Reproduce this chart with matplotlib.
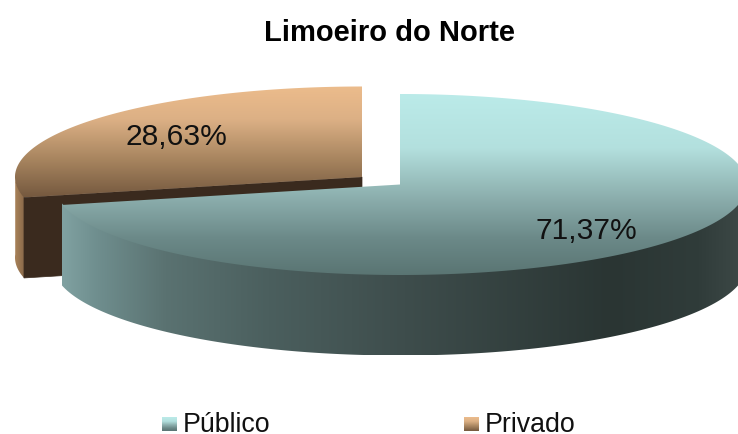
import numpy as np
import matplotlib
matplotlib.use("Agg")
import matplotlib.pyplot as plt
from matplotlib.colors import LinearSegmentedColormap
from matplotlib.patches import Polygon

title = "Limoeiro do Norte"
labels = ["Público", "Privado"]
shares = [71.37, 28.63]
share_texts = ["71,37%", "28,63%"]

plt.rcParams['font.family'] = ['Liberation Sans', 'DejaVu Sans']

# aparencia do pie 3D, em pixels
cx, cy = 400, 184.5
a, b = 347, 90.5
depth = 80.5
shift = (-38, -7.5)  # deslocamento da fatia explodida


def cmap(stops):
    return LinearSegmentedColormap.from_list("g", stops)


top_pub = cmap([(0, "#bbebe9"), (0.3, "#b3e0de"), (0.55, "#8fb2b1"), (0.8, "#6b8988"), (1, "#5a7573")])
top_pri = cmap([(0, "#ecbc8c"), (0.3, "#dcb085"), (0.65, "#a98660"), (1, "#75593f")])
rim_pub = cmap([(0, "#80a1a1"), (0.05, "#6f8e8e"), (0.15, "#5a7271"), (0.3, "#4b5f5e"), (0.5, "#3e4d4c"),
                (0.8, "#2a3533"), (0.93, "#303c3a"), (1, "#3e4a48")])
rim_pri = cmap([(0, "#a98259"), (1, "#8a6a4a")])

fig = plt.figure(figsize=(7.38, 4.34), dpi=100)
ax = fig.add_axes([0, 0, 1, 1])
ax.axis("off")


def arc(t0, t1, ox, oy, dz=0):
    t = np.radians(np.linspace(t0, t1, 300))
    return np.column_stack([ox + a * np.sin(t), oy - b * np.cos(t) + dz])


def fill(points, colors, vertical=True, zorder=1):
    xs, ys = points[:, 0], points[:, 1]
    grad = np.linspace(0, 1, 256)
    grad = grad[:, None] if vertical else grad[None, :]
    im = ax.imshow(grad, cmap=colors, aspect="auto", zorder=zorder, interpolation="bilinear",
                   extent=[xs.min(), xs.max(), ys.max(), ys.min()], vmin=0, vmax=1)
    clip = Polygon(points, closed=True, transform=ax.transData)
    im.set_clip_path(clip)


def rim(t0, t1, ox, oy, colors, zorder):
    # a borda sobe um pouco por baixo do topo para nao sobrar fresta
    upper = arc(t0, t1, ox, oy, -1.5)
    lower = arc(t0, t1, ox, oy, depth)
    fill(np.vstack([upper, lower[::-1]]), colors, vertical=False, zorder=zorder)


# angulos a partir do topo, sentido horario
cut = 360 * shares[0] / sum(shares)

# Privado fica atras
ox, oy = cx + shift[0], cy + shift[1]
rim(cut, 272, ox, oy, rim_pri, 1)
edge = arc(cut, cut, ox, oy)[0]
ax.add_patch(Polygon([(ox, oy), edge, edge + (0, depth), (ox, oy + depth)], closed=True,
                     facecolor="#3a2a1e", edgecolor="#3a2a1e", lw=0.5, zorder=2))
pts = np.vstack([[(ox, oy)], arc(cut, 360, ox, oy)])
fill(pts, top_pri, zorder=3)

# Publico na frente
rim(90, cut, cx, cy, rim_pub, 4)
pts = np.vstack([[(cx, cy)], arc(0, cut, cx, cy)])
fill(pts, top_pub, zorder=5)

ax.text(389, 33, title, fontsize=21, fontweight="bold", ha="center", va="center", color="#000000", zorder=6)
ax.text(586.5, 231, share_texts[0], fontsize=21.6, ha="center", va="center", color="#111111", zorder=6)
ax.text(176, 137, share_texts[1], fontsize=21.6, ha="center", va="center", color="#111111", zorder=6)

# legenda
swatches = [top_pub, top_pri]
for name, col, sx, tx in zip(labels, swatches, [162, 464], [183, 485]):
    ax.imshow(np.linspace(0, 1, 64)[:, None], cmap=col, aspect="auto", zorder=6,
              extent=[sx, sx + 15, 431, 417], vmin=0, vmax=1)
    ax.text(tx, 432.5, name, fontsize=19.3, ha="left", va="baseline", color="#111111", zorder=6)

ax.set_xlim(0, 738)
ax.set_ylim(434, 0)
fig.savefig("out.png", dpi=100)
